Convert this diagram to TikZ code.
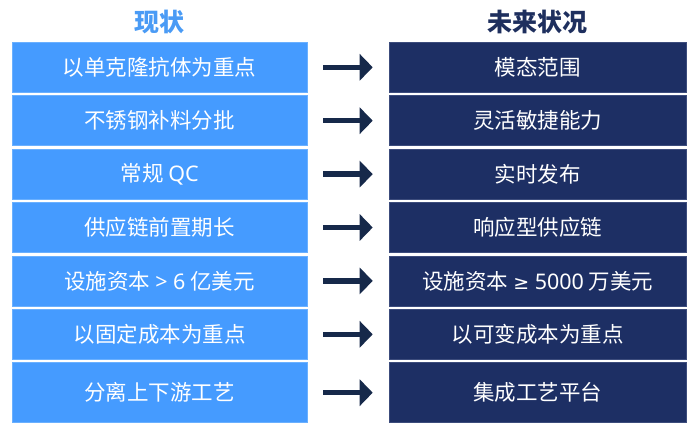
\documentclass[tikz,border=0pt]{standalone}
\usepackage{fontspec}
\newfontfamily\cjk{Noto Sans CJK SC}
\newfontfamily\latf{Noto Sans}
\newfontfamily\symf{DejaVu Sans}
\newcommand\lat[1]{{\latf #1}}
\newcommand\geqsym{{\symf\fontsize{19}{23}\selectfont ≥}}
\usetikzlibrary{arrows.meta}
\definecolor{lblue}{HTML}{459BFF}
\definecolor{lblueedge}{HTML}{6AB0FF}
\definecolor{navy}{HTML}{1D2F64}
\definecolor{navyedge}{HTML}{3C4C7C}
\definecolor{arrowc}{HTML}{16294A}
\definecolor{hblue}{HTML}{4A9BF5}
\definecolor{hnavy}{HTML}{1E2F5E}
\tikzset{
  boxbase/.style={rectangle, inner sep=0pt, outer sep=0pt, line width=0.8pt,
    text=white, font=\cjk\fontsize{21.5}{25}\selectfont, anchor=north west},
  lbox/.style={boxbase, fill=lblue, draw=lblueedge, minimum width=294.7pt},
  rbox/.style={boxbase, fill=navy, draw=navyedge, minimum width=297.7pt},
  hdr/.style={font=\cjk\bfseries\fontsize{25}{29}\selectfont, inner sep=0pt},
  arr/.style={line width=5.5pt, draw=arrowc, -{Triangle[length=13pt,width=26pt]}},
}
\begin{document}
\begin{tikzpicture}[x=1pt,y=-1pt]
\useasboundingbox (0,0) rectangle (700,433);
\node[hdr, text=hblue] (h1) at (159.7,21.7) {现状};
\node[hdr, text=hnavy] (h2) at (537.8,22) {未来状况};
\foreach \i/\lt/\rt/\hh in {
  0/以单克隆抗体为重点/模态范围/50,
  1/不锈钢补料分批/灵活敏捷能力/50,
  2/{常规 \lat{QC}}/实时发布/50,
  3/供应链前置期长/响应型供应链/50,
  4/{设施资本 \lat{> 6} 亿美元}/{设施资本 \geqsym\lat{ 5000} 万美元}/50,
  5/以固定成本为重点/以可变成本为重点/50,
  6/分离上下游工艺/集成工艺平台/60}{
  \pgfmathsetmacro\ty{42.3+53.4*\i}
  \node[lbox, minimum height=\hh pt] (L\i) at (12.3,\ty) {\lt};
  \node[rbox, minimum height=\hh pt] (R\i) at (389,\ty) {\rt};
  \draw[arr] ([xshift=16.3pt]L\i.east) -- ([xshift=-16.3pt]R\i.west);
}
\end{tikzpicture}
\end{document}
